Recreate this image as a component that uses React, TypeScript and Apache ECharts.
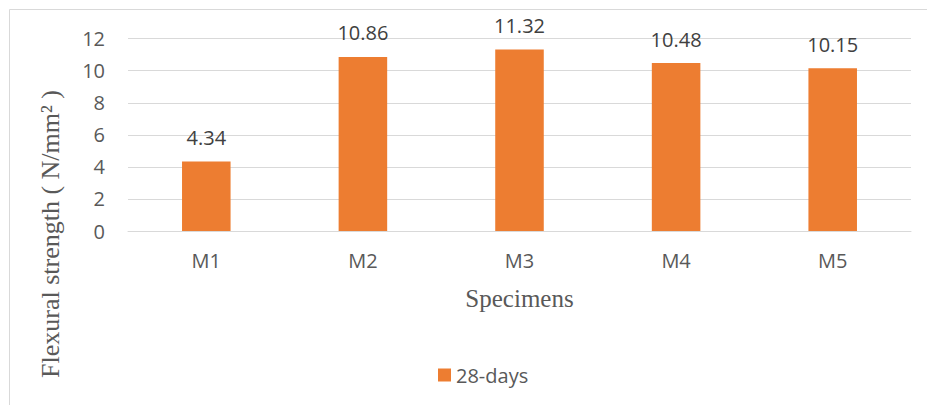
import React, { useEffect, useRef } from "react";
import * as echarts from "echarts";

// Flexural strength at 28 days for each mix
const specimens = ["M1", "M2", "M3", "M4", "M5"];
const strength28 = [4.34, 10.86, 11.32, 10.48, 10.15];
const seriesName = "28-days";
const yTitle = "Flexural strength ( N/mm² )";
const xTitle = "Specimens";

const SANS = "'Open Sans', 'Liberation Sans', sans-serif";
const SERIF = "'Liberation Serif', 'Times New Roman', serif";

export default function App() {
  const ref = useRef<HTMLDivElement>(null);

  useEffect(() => {
    if (!ref.current) return;
    const chart = echarts.init(ref.current, undefined, { renderer: "svg" });
    chart.setOption({
      animation: false,
      backgroundColor: "#ffffff",
      grid: { left: 128, right: 16, top: 38.7, bottom: 174, containLabel: false },
      legend: {
        data: [seriesName],
        left: 433,
        top: 360,
        icon: "rect",
        itemWidth: 13,
        itemHeight: 13,
        itemGap: 10,
        textStyle: { fontFamily: SANS, fontSize: 20, color: "#595959" },
      },
      graphic: [
        {
          type: "rect",
          silent: true,
          shape: { x: 9.5, y: 9.5, width: 1000, height: 500 },
          style: { fill: "none", stroke: "#d9d9d9", lineWidth: 1 },
        },
        {
          type: "text",
          silent: true,
          x: 50,
          y: 234,
          rotation: Math.PI / 2,
          style: {
            text: yTitle,
            font: `26px ${SERIF}`,
            fill: "#595959",
            align: "center",
            verticalAlign: "middle",
          },
        },
      ],
      xAxis: {
        type: "category",
        data: specimens,
        name: xTitle,
        nameLocation: "middle",
        nameGap: 67,
        nameTextStyle: {
          fontFamily: SERIF,
          fontSize: 25,
          color: "#595959",
          verticalAlign: "middle",
        },
        axisLine: { show: true, lineStyle: { color: "#d9d9d9", width: 1 } },
        axisTick: { show: false },
        axisLabel: { fontFamily: SANS, fontSize: 20, color: "#595959", margin: 19 },
      },
      yAxis: {
        type: "value",
        min: 0,
        max: 12,
        interval: 2,
        axisLine: { show: false },
        axisTick: { show: false },
        splitLine: { show: true, lineStyle: { color: "#d9d9d9", width: 1 } },
        axisLabel: { fontFamily: SANS, fontSize: 20, color: "#595959", margin: 23 },
      },
      series: [
        {
          name: seriesName,
          type: "bar",
          data: strength28,
          barWidth: "31%",
          itemStyle: { color: "#ED7D31" },
          label: {
            show: true,
            position: "top",
            distance: 14,
            fontFamily: SANS,
            fontSize: 20,
            color: "#404040",
            formatter: (p: any) => p.value.toFixed(2),
          },
        },
      ],
    });
    return () => chart.dispose();
  }, []);

  return (
    <div
      ref={ref}
      style={{ position: "absolute", left: 0, top: 0, width: 927, height: 405, background: "#fff" }}
    />
  );
}
